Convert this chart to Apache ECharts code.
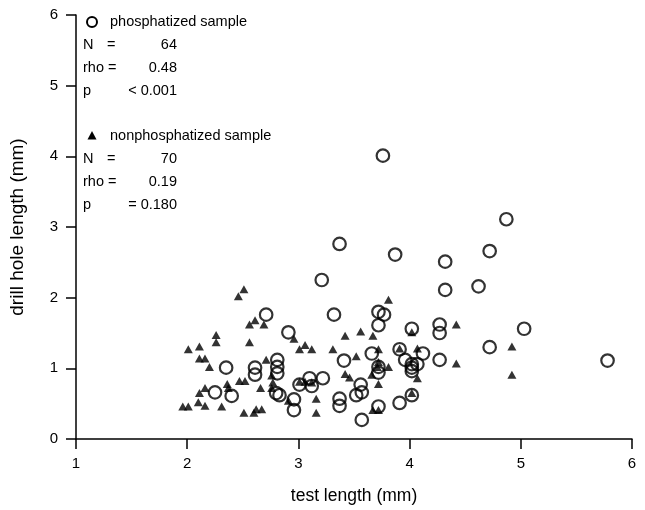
<!DOCTYPE html>
<html><head><meta charset="utf-8">
<script src="https://cdn.jsdelivr.net/npm/echarts@6/dist/echarts.min.js"></script>
<style>html,body{margin:0;padding:0;background:#fff}#c{width:645px;height:510px}</style>
</head><body><div id="c"></div>
<script>
const xTicks = [1, 2, 3, 4, 5, 6];
const yTicks = [0, 1, 2, 3, 4, 5, 6];
const phosphatized = [
  [3.76,4.01],[4.87,3.11],[4.72,2.66],[3.37,2.76],[3.87,2.61],[4.32,2.51],[3.21,2.25],[4.62,2.16],
  [4.32,2.11],[2.71,1.76],[3.32,1.76],[3.72,1.80],[3.77,1.76],[3.72,1.61],[4.02,1.56],[4.27,1.62],
  [4.27,1.50],[5.03,1.56],[2.91,1.51],[4.72,1.30],[5.78,1.11],[4.27,1.12],[2.35,1.01],[2.61,1.01],
  [2.61,0.91],[2.81,1.12],[2.81,1.02],[2.81,0.93],[3.41,1.11],[3.66,1.21],[3.72,1.02],[3.72,0.94],
  [3.91,1.27],[3.96,1.12],[4.02,1.06],[4.07,1.06],[4.02,0.96],[4.12,1.21],[3.01,0.77],[3.10,0.86],
  [3.12,0.75],[3.22,0.86],[3.52,0.62],[3.56,0.77],[3.57,0.66],[3.37,0.57],[3.37,0.47],[3.72,0.46],
  [3.91,0.51],[4.02,0.62],[3.57,0.27],[2.25,0.66],[2.40,0.61],[2.80,0.65],[2.83,0.62],[2.96,0.56],
  [2.96,0.41],[4.02,1.01]
];
const nonphosphatized = [
  [2.51,2.12],[2.46,2.02],[2.56,1.62],[2.61,1.68],[2.69,1.62],[2.26,1.47],[2.26,1.37],[2.56,1.37],
  [2.01,1.27],[2.11,1.31],[2.96,1.42],[3.01,1.27],[3.06,1.33],[3.12,1.27],[3.31,1.27],[3.42,1.46],
  [3.56,1.52],[3.67,1.46],[3.81,1.97],[4.02,1.51],[4.42,1.62],[4.92,1.31],[4.42,1.07],[4.92,0.91],
  [3.52,1.17],[3.72,1.27],[3.72,1.09],[3.71,1.02],[3.81,1.02],[3.66,0.91],[3.91,1.28],[4.07,1.28],
  [4.07,0.86],[3.01,0.81],[3.06,0.81],[3.12,0.80],[3.42,0.92],[3.46,0.87],[3.72,0.78],[3.16,0.57],
  [3.16,0.37],[3.67,0.41],[3.72,0.41],[4.02,0.65],[2.11,1.14],[2.16,1.14],[2.20,1.02],[2.71,1.12],
  [2.76,0.90],[2.77,0.80],[2.76,0.72],[2.36,0.78],[2.37,0.72],[2.47,0.82],[2.52,0.82],[2.66,0.72],
  [2.11,0.65],[2.16,0.72],[1.96,0.46],[2.01,0.46],[2.10,0.52],[2.16,0.47],[2.31,0.46],[2.51,0.37],
  [2.60,0.37],[2.62,0.42],[2.67,0.42],[2.91,0.54]
];
const legendTitles = ['phosphatized sample', 'nonphosphatized sample'];
const statsP = [['N', '=', '64'], ['rho', '=', '0.48'], ['p', '', '< 0.001']];
const statsN = [['N', '=', '70'], ['rho', '=', '0.19'], ['p', '', '= 0.180']];
const xTitle = 'test length (mm)';
const yTitle = 'drill hole length (mm)';

const FONT = '"Liberation Sans", Arial, sans-serif';
const chart = echarts.init(document.getElementById('c'), null, {renderer: 'canvas'});
const axisCommon = {
  axisLine: {show: true, onZero: false, lineStyle: {color: '#000', width: 1.5}},
  axisTick: {show: true, inside: false, length: 10, lineStyle: {color: '#000', width: 1.5}},
  splitLine: {show: false},
  axisLabel: {color: '#000', fontSize: 15, fontFamily: FONT},
  nameTextStyle: {color: '#000', fontSize: 17.5, fontFamily: FONT}
};
function txt(x, y, s, align) {
  return {type: 'text', x: x, y: y,
    style: {text: s, fill: '#000', font: '14.5px ' + FONT, textAlign: align || 'left', textVerticalAlign: 'middle'}};
}
const graphics = [];
function block(y0, title, stats, marker) {
  graphics.push(marker);
  graphics.push(txt(110, y0, title));
  stats.forEach((r, i) => {
    const y = y0 + 23 * (i + 1);
    graphics.push(txt(83, y, r[0]));
    if (r[1]) graphics.push(txt(r[0] === 'rho' ? 108 : 107, y, r[1]));
    graphics.push(txt(177, y, r[2], 'right'));
  });
}
block(22, legendTitles[0], statsP, {type: 'circle', shape: {cx: 92, cy: 22, r: 5}, style: {fill: '#fff', stroke: '#000', lineWidth: 2}});
block(136, legendTitles[1], statsN, {type: 'polygon', shape: {points: [[92, 131], [96.5, 139.5], [87.5, 139.5]]}, style: {fill: '#000'}});

chart.setOption({
  animation: false,
  backgroundColor: '#fff',
  grid: {left: 76, right: 13, top: 15, bottom: 66},
  xAxis: Object.assign({}, axisCommon, {
    type: 'value', min: xTicks[0], max: xTicks[xTicks.length - 1], interval: 1,
    name: xTitle, nameLocation: 'middle', nameGap: 48,
    axisLabel: Object.assign({}, axisCommon.axisLabel, {margin: 17})
  }),
  yAxis: Object.assign({}, axisCommon, {
    type: 'value', min: yTicks[0], max: yTicks[yTicks.length - 1], interval: 1,
    name: yTitle, nameLocation: 'middle', nameGap: 49,
    nameTextStyle: Object.assign({}, axisCommon.nameTextStyle, {fontSize: 19}),
    axisLabel: Object.assign({}, axisCommon.axisLabel, {margin: 18})
  }),
  series: [
    {type: 'scatter', name: legendTitles[0], data: phosphatized, symbol: 'circle', symbolSize: 12.5,
      itemStyle: {color: 'rgba(255,255,255,0)', borderColor: '#000', borderWidth: 2.2}, z: 3},
    {type: 'scatter', name: legendTitles[1], data: nonphosphatized, symbol: 'triangle', symbolSize: [9, 8],
      itemStyle: {color: '#000'}, z: 2}
  ],
  graphic: graphics
});
</script></body></html>
